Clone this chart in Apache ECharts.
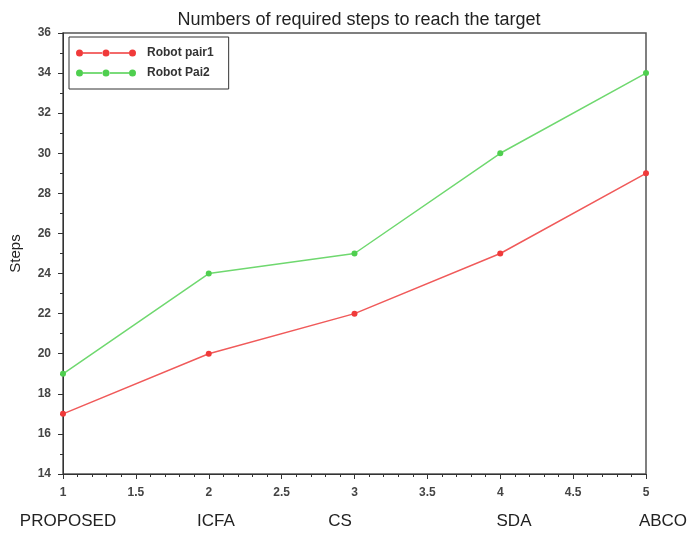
<!DOCTYPE html>
<html>
<head>
<meta charset="utf-8">
<script src="https://cdn.jsdelivr.net/npm/echarts@6/dist/echarts.min.js"></script>
<style>
  html, body { margin: 0; padding: 0; background: #fff; }
  #chart { width: 687px; height: 533px; }
</style>
</head>
<body>
<div id="chart"></div>
<script>
// Method index on the x axis and the step counts for each robot pair
const xPositions = [1, 2, 3, 4, 5];
const pair1Steps = [17, 20, 22, 25, 29];
const pair2Steps = [19, 24, 25, 30, 34];
const seriesNames = ['Robot pair1', 'Robot Pai2'];
const methodNames = ['PROPOSED', 'ICFA', 'CS', 'SDA', 'ABCO'];
const methodLabelX = [68, 216, 340, 514, 663];

const chart = echarts.init(document.getElementById('chart'));

// legend icon: a line with three dots, like the plotted markers
const legendIcon = 'path://' +
  'M7,4.3 L27,4.3 L27,5.7 L7,5.7 Z ' +
  'M33,4.3 L53,4.3 L53,5.7 L33,5.7 Z ' +
  'M0,5 a3.5,3.5 0 1,0 7,0 a3.5,3.5 0 1,0 -7,0 Z ' +
  'M26.5,5 a3.5,3.5 0 1,0 7,0 a3.5,3.5 0 1,0 -7,0 Z ' +
  'M53,5 a3.5,3.5 0 1,0 7,0 a3.5,3.5 0 1,0 -7,0 Z';

const toPoints = vals => vals.map((v, i) => [xPositions[i], v]);

chart.setOption({
  animation: false,
  title: {
    text: 'Numbers of required steps to reach the target',
    left: 354, top: 6, textAlign: 'center',
    textStyle: { fontFamily: 'Liberation Sans', fontSize: 18, fontWeight: 'normal', color: '#222' }
  },
  legend: {
    orient: 'vertical',
    left: 69, top: 37,
    data: seriesNames,
    icon: legendIcon,
    itemWidth: 60, itemHeight: 8,
    itemGap: 8,
    padding: [10, 15, 10, 7],
    borderColor: '#333', borderWidth: 1,
    textStyle: {
      fontFamily: 'Liberation Sans', fontSize: 12, fontWeight: 'bold', color: '#333',
      padding: [0, 0, 0, 6]
    }
  },
  grid: { left: 62, right: 41, top: 33, bottom: 59, show: true, borderColor: '#555', borderWidth: 1.5 },
  xAxis: {
    type: 'value', min: 1, max: 5, interval: 0.5,
    axisLine: { show: true, lineStyle: { color: '#333', width: 1 } },
    axisTick: { show: true, inside: false, length: 5, lineStyle: { color: '#333' } },
    minorTick: { show: true, splitNumber: 5, length: 3, lineStyle: { color: '#333' } },
    splitLine: { show: false },
    axisLabel: {
      margin: 13, color: '#444', fontFamily: 'Liberation Sans', fontSize: 12, fontWeight: 'bold',
      formatter: v => String(v)
    }
  },
  yAxis: {
    type: 'value', min: 14, max: 36, interval: 2,
    name: 'Steps', nameLocation: 'middle', nameGap: 40, nameRotate: 90,
    nameTextStyle: { fontFamily: 'Liberation Sans', fontSize: 15, color: '#222' },
    axisLine: { show: true, lineStyle: { color: '#333', width: 1 } },
    axisTick: { show: true, inside: false, length: 5, lineStyle: { color: '#333' } },
    minorTick: { show: true, splitNumber: 2, length: 3, lineStyle: { color: '#333' } },
    splitLine: { show: false },
    axisLabel: { margin: 12, color: '#444', fontFamily: 'Liberation Sans', fontSize: 12, fontWeight: 'bold' }
  },
  series: [
    {
      name: seriesNames[0], type: 'line', data: toPoints(pair1Steps),
      symbol: 'circle', symbolSize: 6,
      itemStyle: { color: '#f03a3a' }, lineStyle: { color: '#f05a5a', width: 1.5 }
    },
    {
      name: seriesNames[1], type: 'line', data: toPoints(pair2Steps),
      symbol: 'circle', symbolSize: 6,
      itemStyle: { color: '#4fcf4f' }, lineStyle: { color: '#6fd86f', width: 1.5 }
    }
  ],
  graphic: methodNames.map((name, i) => ({
    type: 'text',
    x: methodLabelX[i], y: 521,
    style: {
      text: name, textAlign: 'center', textVerticalAlign: 'middle',
      fontFamily: 'Liberation Sans', fontSize: 17, fill: '#222'
    }
  }))
});
</script>
</body>
</html>
